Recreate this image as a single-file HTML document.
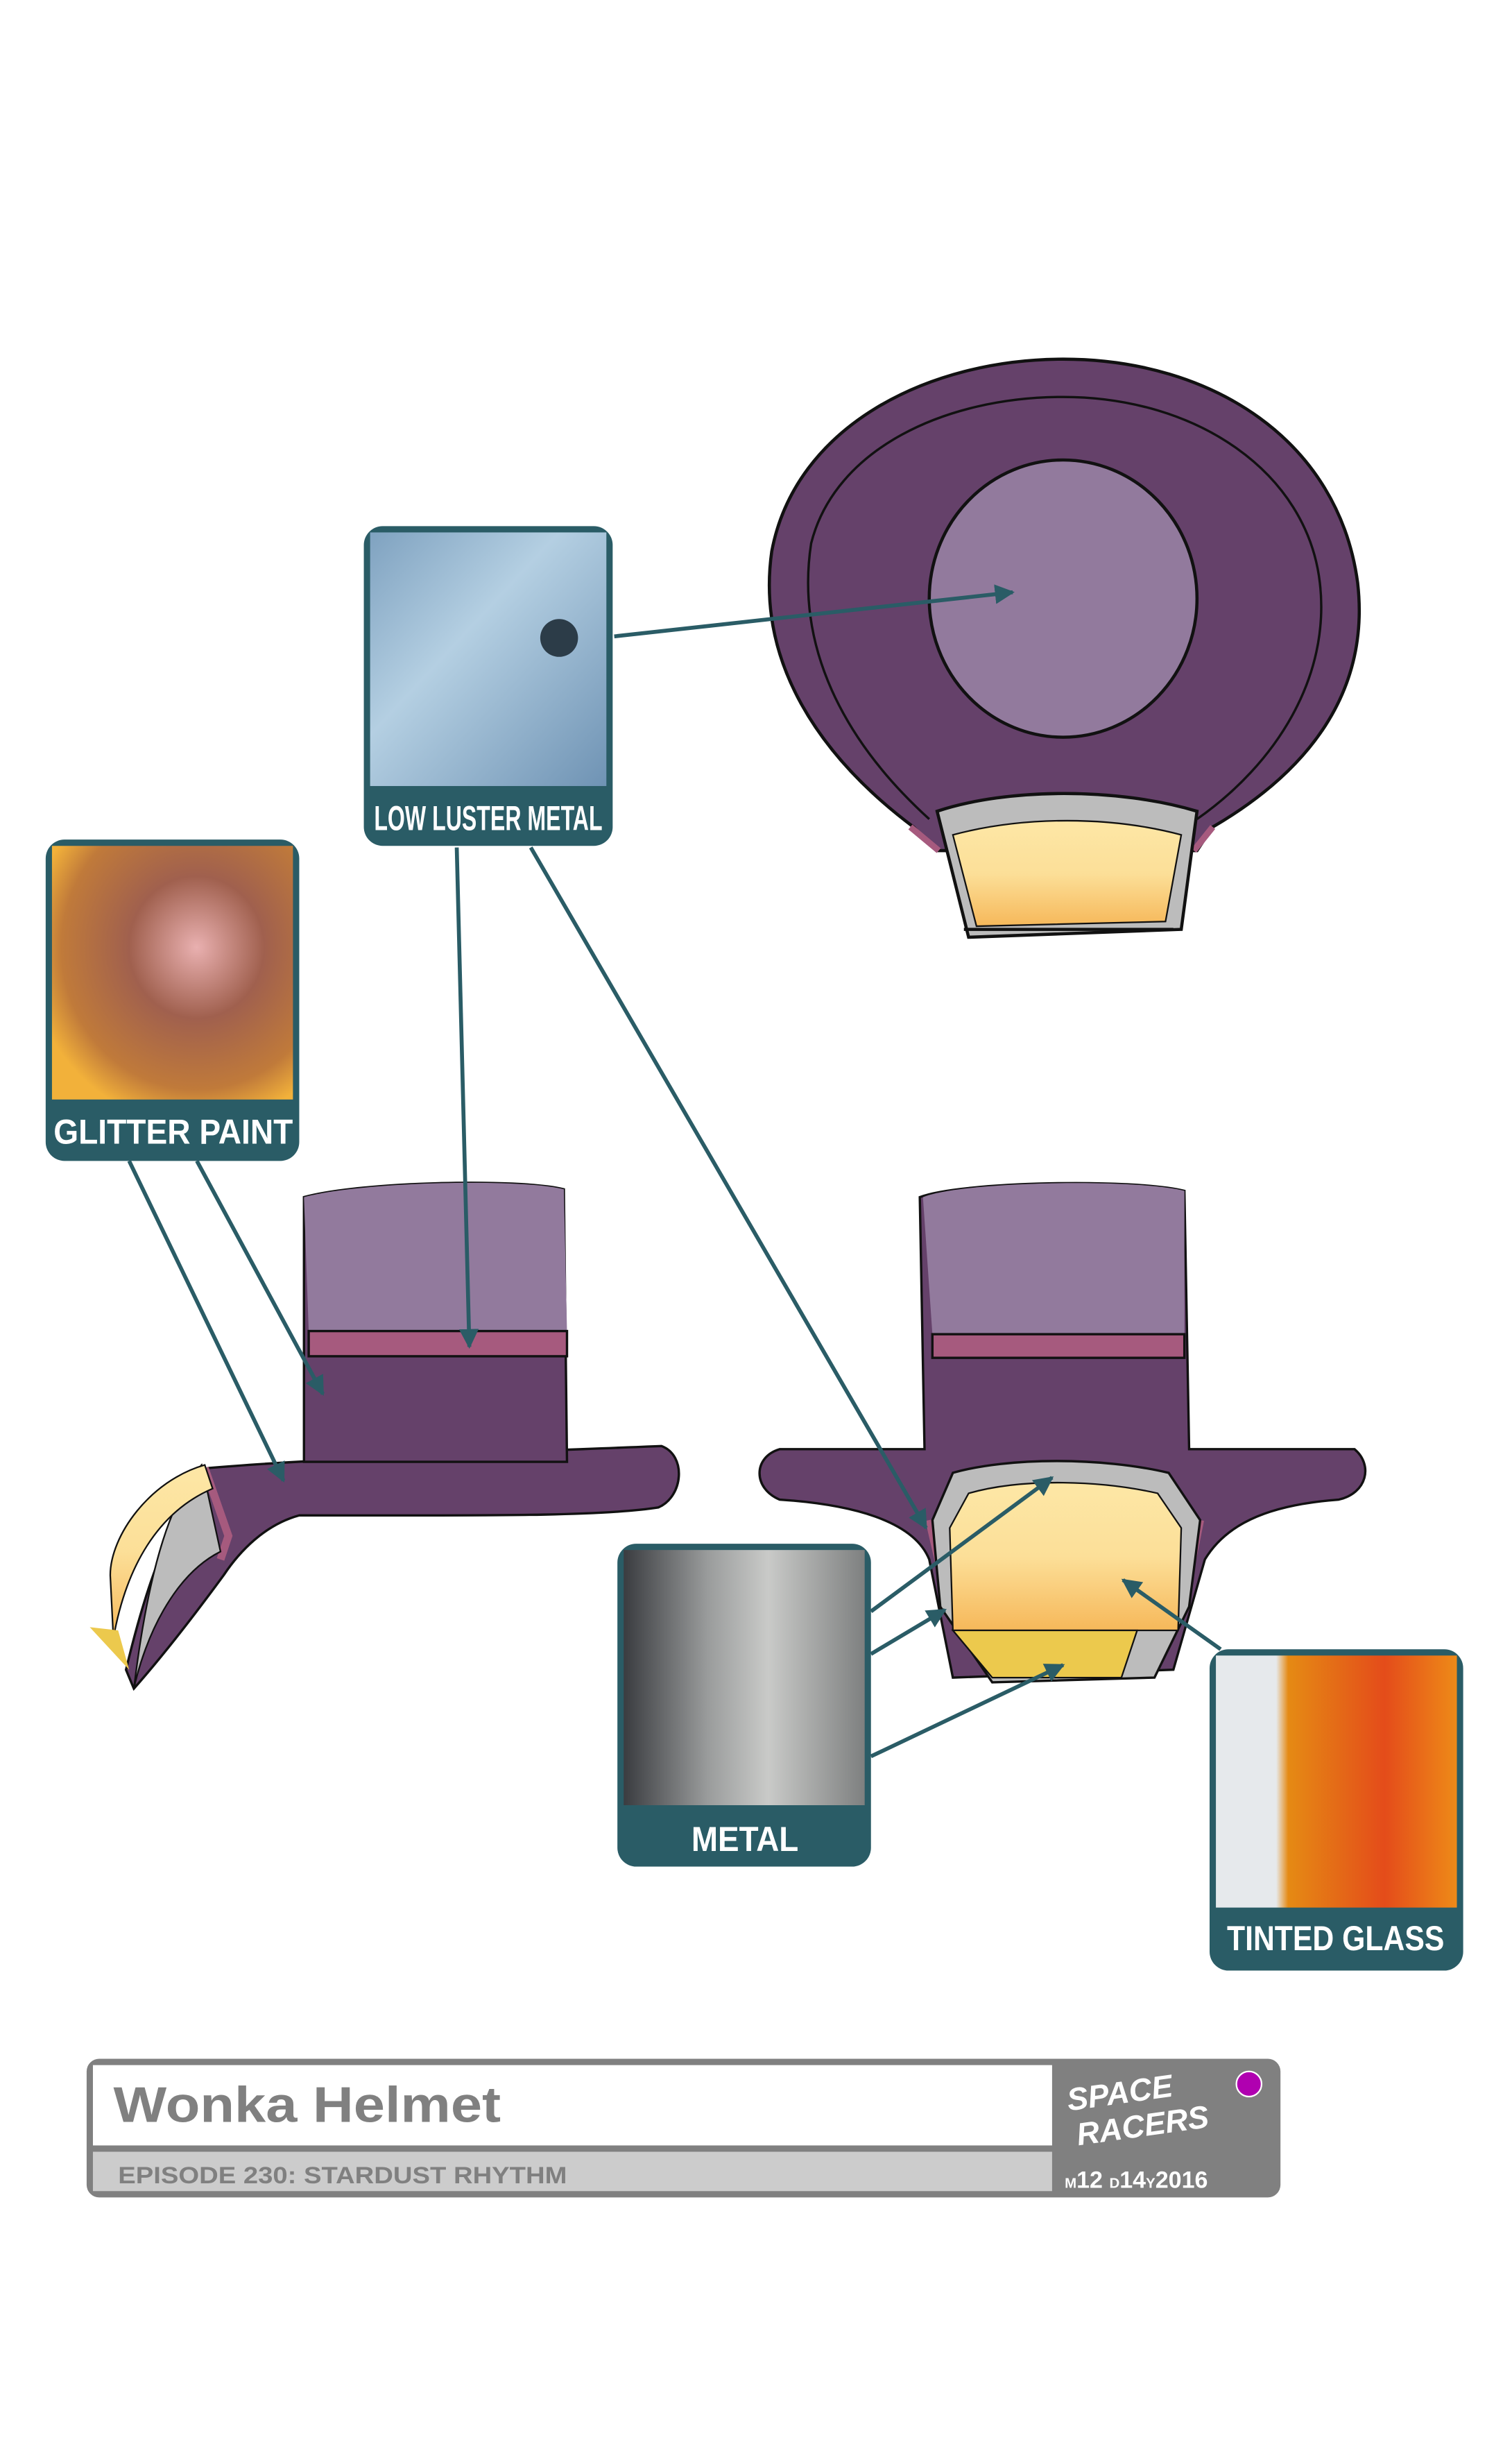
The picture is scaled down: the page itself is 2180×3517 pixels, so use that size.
<!DOCTYPE html>
<html><head><meta charset="utf-8"><style>html,body{margin:0;padding:0;background:#fff}svg{display:block}</style></head>
<body>
<svg width="2180" height="3517" viewBox="0 0 960 1549" preserveAspectRatio="none" xmlns="http://www.w3.org/2000/svg" font-family="Liberation Sans, sans-serif">
<defs>
<linearGradient id="yel" x1="0" y1="0" x2="0" y2="1"><stop offset="0" stop-color="#fde7a6"/><stop offset="0.5" stop-color="#fcdf98"/><stop offset="1" stop-color="#f6b85a"/></linearGradient>
<linearGradient id="blue" x1="0" y1="0" x2="1" y2="1"><stop offset="0" stop-color="#7fa2c0"/><stop offset="0.4" stop-color="#b4cfe2"/><stop offset="1" stop-color="#6f93b4"/></linearGradient>
<radialGradient id="glit" cx="0.6" cy="0.4" r="0.7"><stop offset="0" stop-color="#e9b0b0"/><stop offset="0.4" stop-color="#a0604e"/><stop offset="0.8" stop-color="#c07a3a"/><stop offset="1" stop-color="#f2b13a"/></radialGradient>
<linearGradient id="met" x1="0" y1="0" x2="1" y2="0"><stop offset="0" stop-color="#3a3c40"/><stop offset="0.35" stop-color="#9a9c9c"/><stop offset="0.6" stop-color="#c9cac8"/><stop offset="1" stop-color="#7e8080"/></linearGradient>
<linearGradient id="org" x1="0" y1="0" x2="1" y2="0"><stop offset="0" stop-color="#e6e9ec"/><stop offset="0.25" stop-color="#e6e9ec"/><stop offset="0.3" stop-color="#e58a14"/><stop offset="0.7" stop-color="#e44c1a"/><stop offset="1" stop-color="#ee8a18"/></linearGradient>
<marker id="ar" viewBox="0 0 10 10" refX="9" refY="5" markerWidth="5" markerHeight="5" orient="auto"><path d="M0,0L10,5L0,10z" fill="#2a5c66"/></marker>
</defs>

<!-- top helmet -->
<path d="M580,525 C520,480 480,420 490,350 C505,270 590,228 675,228 C770,228 850,280 862,370 C870,440 830,490 770,525 L760,540 L595,540 Z" fill="#65416a" stroke="#111" stroke-width="2"/>
<path d="M590,520 C535,470 505,410 515,345 C530,285 600,252 675,252 C760,252 830,300 838,370 C845,430 810,485 760,520" fill="none" stroke="#111" stroke-width="1.5"/>
<ellipse cx="675" cy="380" rx="85" ry="88" fill="#927a9d" stroke="#111" stroke-width="2"/>
<path d="M578,525 L596,540 M770,525 L758,540" stroke="#a65a7e" stroke-width="4"/>
<path d="M595,515 C640,500 710,500 760,515 L750,590 L615,595 Z" fill="#bcbcbc" stroke="#111" stroke-width="2"/>
<path d="M605,530 C650,518 705,518 750,530 L740,585 L620,588 Z" fill="url(#yel)" stroke="#111" stroke-width="1"/>
<path d="M612,590 L745,590" stroke="#111" stroke-width="2"/>

<!-- left hat -->
<path d="M132,932 C200,926 320,922 420,918 C436,924 434,950 418,957 C380,963 300,962 190,962 C168,968 152,985 142,1000 C120,1030 100,1055 85,1072 L80,1060 C92,1010 105,970 132,932 Z" fill="#65416a" stroke="#111" stroke-width="1.5"/>
<path d="M193,760 C230,750 330,748 358,755 L360,928 L193,928 Z" fill="#65416a" stroke="#111" stroke-width="1.5"/>
<path d="M193,760 C230,750 330,748 358,755 L360,845 L196,845 Z" fill="#927a9d"/>
<rect x="196" y="845" width="164" height="16" fill="#a65a7e" stroke="#111" stroke-width="1.5"/>
<path d="M130,932 L145,975 L140,990" stroke="#a65a7e" stroke-width="5" fill="none"/>
<path d="M128,930 C110,950 95,990 85,1072 C92,1040 110,1000 140,985 Z" fill="#bcbcbc" stroke="#111" stroke-width="1"/>
<path d="M130,930 C95,940 70,975 70,1000 L72,1040 C80,995 100,960 135,945 Z" fill="url(#yel)" stroke="#111" stroke-width="1"/>
<path d="M57,1033 L75,1035 L82,1060 Z" fill="#ecc94d"/>

<!-- right hat -->
<path d="M584,760 C610,750 720,748 752,756 L755,920 L860,920 C872,930 868,948 850,952 C810,955 780,965 765,990 L745,1060 L605,1065 L590,990 C580,965 540,955 495,952 C478,945 478,925 495,920 L587,920 Z" fill="#65416a" stroke="#111" stroke-width="1.5"/>
<path d="M586,760 C610,750 720,748 752,756 L752,847 L592,847 Z" fill="#927a9d"/>
<rect x="592" y="847" width="160" height="15" fill="#a65a7e" stroke="#111" stroke-width="1.5"/>
<path d="M590,965 L598,1000 M762,965 L755,1000" stroke="#a65a7e" stroke-width="5"/>
<path d="M605,935 C640,925 700,925 742,935 L762,965 L755,1020 L733,1065 L630,1068 L597,1020 L592,965 Z" fill="#bcbcbc" stroke="#111" stroke-width="1.5"/>
<path d="M615,948 C650,938 700,940 735,948 L750,970 L748,1035 L605,1035 L603,970 Z" fill="url(#yel)" stroke="#111" stroke-width="1"/>
<path d="M605,1035 L722,1035 L712,1065 L630,1065 Z" fill="#ecc94d" stroke="#111" stroke-width="1"/>

<!-- arrows -->
<g stroke="#2a5c66" stroke-width="2.5" fill="none" marker-end="url(#ar)">
<line x1="390" y1="404" x2="643" y2="376"/>
<line x1="290" y1="538" x2="298" y2="855"/>
<line x1="337" y1="538" x2="588" y2="970"/>
<line x1="82" y1="737" x2="180" y2="940"/>
<line x1="125" y1="737" x2="205" y2="885"/>
<line x1="553" y1="1023" x2="668" y2="938"/>
<line x1="553" y1="1050" x2="600" y2="1022"/>
<line x1="553" y1="1115" x2="675" y2="1057"/>
<line x1="775" y1="1047" x2="713" y2="1003"/>
</g>

<!-- callout boxes -->
<g>
<rect x="231" y="334" width="158" height="203" rx="12" fill="#2a5c66"/>
<rect x="235" y="338" width="150" height="161" fill="url(#blue)"/>
<circle cx="355" cy="405" r="12" fill="#2c3c48"/>
<text x="310" y="527" text-anchor="middle" fill="#fff" font-size="22" font-weight="bold" textLength="145" lengthAdjust="spacingAndGlyphs">LOW LUSTER METAL</text>

<rect x="29" y="533" width="161" height="204" rx="12" fill="#2a5c66"/>
<rect x="33" y="537" width="153" height="161" fill="url(#glit)"/>
<text x="110" y="726" text-anchor="middle" fill="#fff" font-size="22" font-weight="bold" textLength="152" lengthAdjust="spacingAndGlyphs">GLITTER PAINT</text>

<rect x="392" y="980" width="161" height="205" rx="12" fill="#2a5c66"/>
<rect x="396" y="984" width="153" height="162" fill="url(#met)"/>
<text x="473" y="1175" text-anchor="middle" fill="#fff" font-size="22" font-weight="bold" textLength="68" lengthAdjust="spacingAndGlyphs">METAL</text>

<rect x="768" y="1047" width="161" height="204" rx="12" fill="#2a5c66"/>
<rect x="772" y="1051" width="153" height="160" fill="url(#org)"/>
<text x="848" y="1238" text-anchor="middle" fill="#fff" font-size="22" font-weight="bold" textLength="138" lengthAdjust="spacingAndGlyphs">TINTED GLASS</text>
</g>

<!-- title block -->
<rect x="55" y="1307" width="758" height="88" rx="8" fill="#808080"/>
<rect x="59" y="1311" width="609" height="51" fill="#fff"/>
<rect x="59" y="1366" width="609" height="25" fill="#cccccc"/>
<text x="72" y="1347" fill="#808080" font-size="32" font-weight="bold" textLength="246" lengthAdjust="spacingAndGlyphs">Wonka Helmet</text>
<text x="75" y="1386" fill="#808080" font-size="15" font-weight="bold" textLength="285" lengthAdjust="spacingAndGlyphs">EPISODE 230: STARDUST RHYTHM</text>
<text x="678" y="1337" fill="#fff" font-size="20" font-weight="bold" font-style="italic" transform="rotate(-8 700 1335)">SPACE</text>
<text x="684" y="1357" fill="#fff" font-size="20" font-weight="bold" font-style="italic" transform="rotate(-8 720 1355)">RACERS</text>
<text x="676" y="1389" fill="#fff" font-size="15" font-weight="bold"><tspan font-size="9">M</tspan>12 <tspan font-size="9">D</tspan>14<tspan font-size="9">Y</tspan>2016</text>
<circle cx="793" cy="1323" r="8" fill="#b000b0" stroke="#fff" stroke-width="1"/>
</svg>
</body></html>
